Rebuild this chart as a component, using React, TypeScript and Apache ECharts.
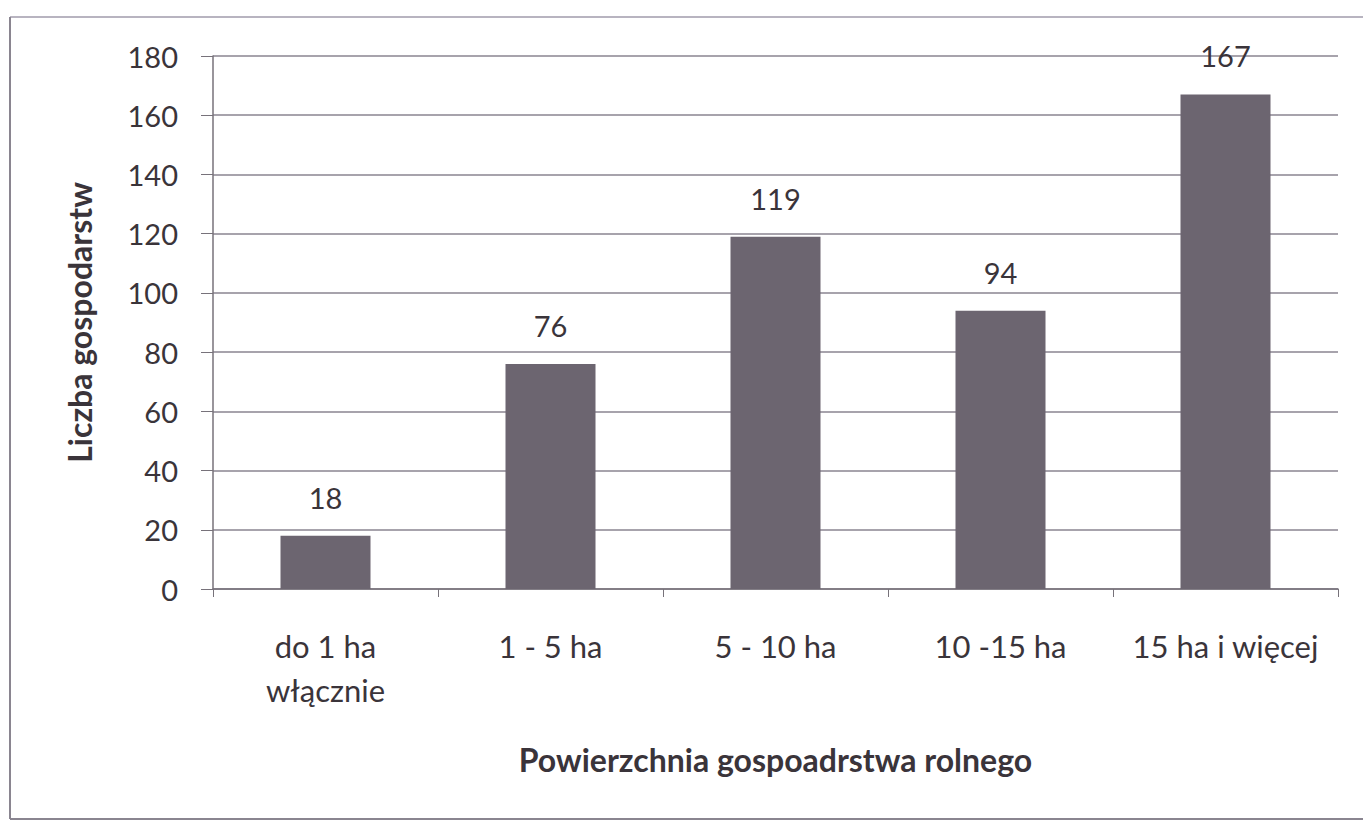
import React, { useEffect, useRef } from "react";
import * as echarts from "echarts";

const categories = ["do 1 ha\nwłącznie", "1 - 5 ha", "5 - 10 ha", "10 -15 ha", "15 ha i więcej"];
const values = [18, 76, 119, 94, 167];
const yTitle = "Liczba gospodarstw";
const xTitle = "Powierzchnia gospoadrstwa rolnego";

export default function App() {
  const ref = useRef<HTMLDivElement>(null);
  useEffect(() => {
    document.body.style.margin = "0";
    const chart = echarts.init(ref.current!, null, { renderer: "svg" });
    const font = "Lato, 'Open Sans', sans-serif";
    const borderStyle = { stroke: "#8a8590", lineWidth: 2 };
    chart.setOption({
      animation: false,
      backgroundColor: "#ffffff",
      textStyle: { fontFamily: font },
      graphic: [
        { type: "line", shape: { x1: 10, y1: 17, x2: 1363, y2: 17 }, style: { ...borderStyle, stroke: "#b8b4c0" }, silent: true },
        { type: "line", shape: { x1: 10, y1: 17, x2: 10, y2: 819 }, style: borderStyle, silent: true },
        { type: "line", shape: { x1: 10, y1: 819, x2: 1363, y2: 819 }, style: borderStyle, silent: true },
      ],
      grid: { left: 213, right: 25, top: 56, bottom: 232, containLabel: false },
      xAxis: {
        type: "category",
        data: categories,
        name: xTitle,
        nameLocation: "middle",
        nameGap: 154,
        nameTextStyle: { fontSize: 32, fontWeight: "bold", color: "#3a343a", fontFamily: font },
        axisLine: { show: true, lineStyle: { color: "#77727a", width: 1.5 } },
        axisTick: { show: true, length: 8, alignWithLabel: false, lineStyle: { color: "#77727a" } },
        axisLabel: {
          interval: 0,
          hideOverlap: false,
          fontSize: 31,
          color: "#3a343a",
          margin: 35,
          lineHeight: 44,
          fontFamily: font,
        },
      },
      yAxis: {
        type: "value",
        min: 0,
        max: 180,
        interval: 20,
        name: yTitle,
        nameLocation: "middle",
        nameGap: 118,
        nameRotate: 90,
        nameTextStyle: { fontSize: 32, fontWeight: "bold", color: "#3a343a", fontFamily: font },
        axisLine: { show: true, lineStyle: { color: "#77727a", width: 1.5 } },
        axisTick: { show: true, length: 12, inside: false, lineStyle: { color: "#77727a" } },
        axisLabel: { fontSize: 29, color: "#3a343a", margin: 35, fontFamily: font },
        splitLine: { show: true, lineStyle: { color: "#8a8590", width: 1.5 } },
      },
      series: [
        {
          type: "bar",
          data: values,
          barWidth: "40%",
          itemStyle: { color: "#6c6570" },
          label: {
            show: true,
            position: "top",
            distance: 24,
            fontSize: 29,
            color: "#3a343a",
            fontFamily: font,
          },
        },
      ],
    });
    return () => chart.dispose();
  }, []);
  return <div ref={ref} style={{ width: 1363, height: 821 }} />;
}
